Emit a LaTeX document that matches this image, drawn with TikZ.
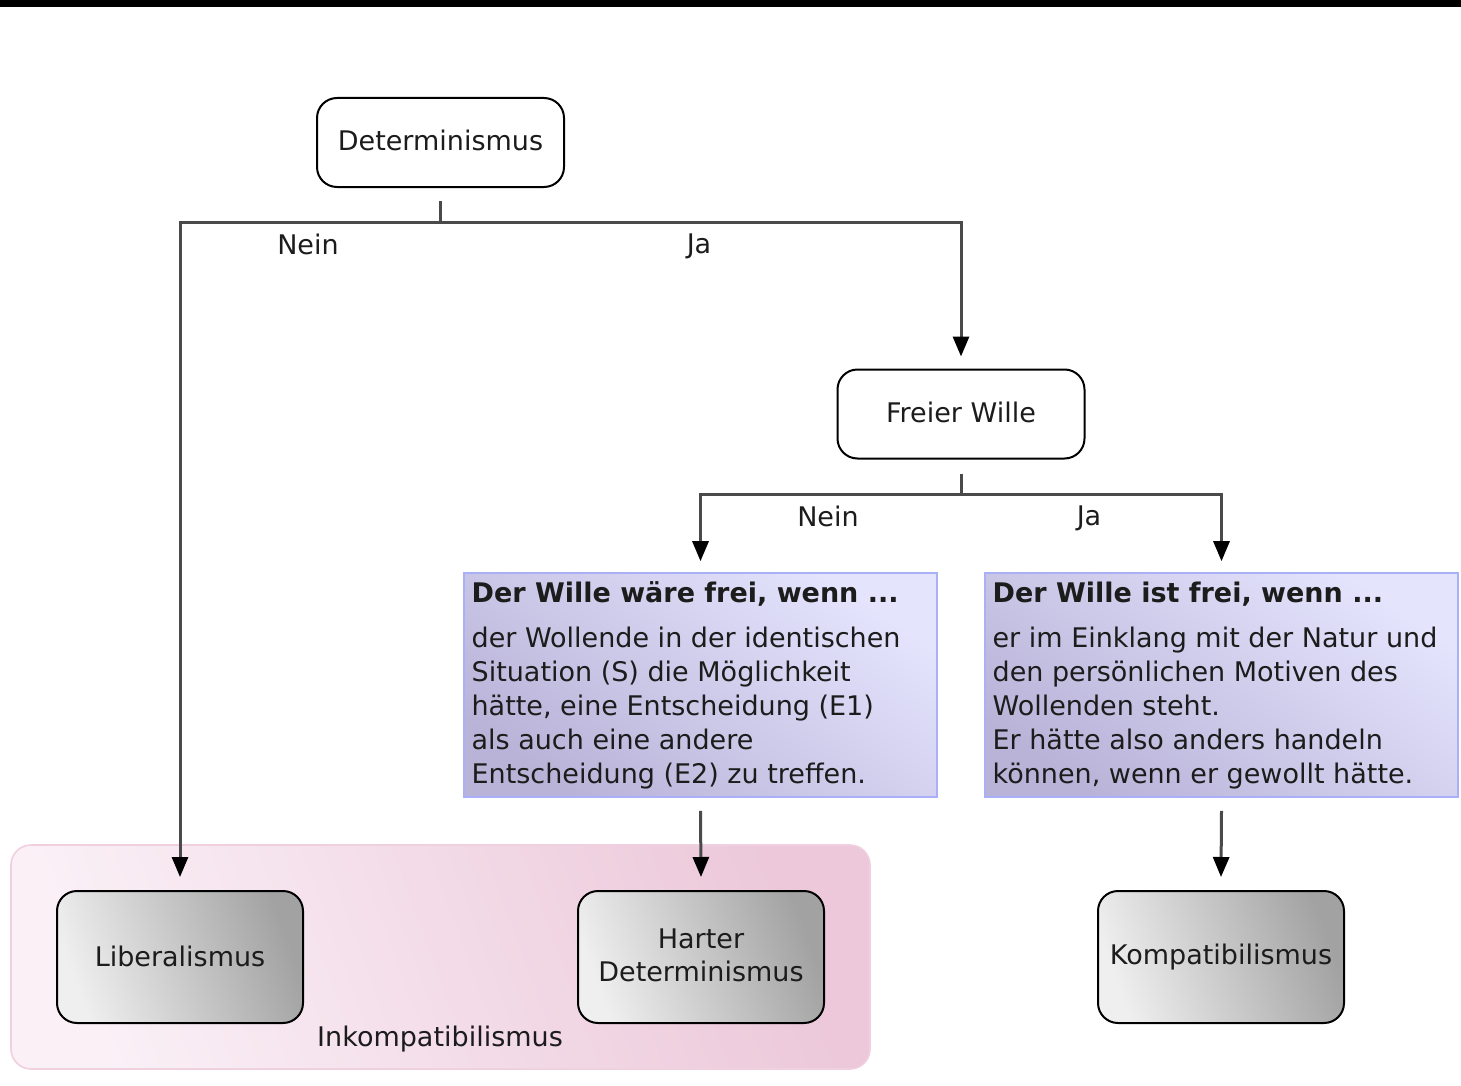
\documentclass[tikz,border=0pt]{standalone}
\usepackage{fontspec}
\setmainfont{DejaVu Sans}
\usetikzlibrary{arrows.meta,calc}

\definecolor{linegray}{HTML}{4A4A4A}
\definecolor{textgray}{HTML}{1C1C1C}
\definecolor{lavlight}{HTML}{E4E4FD}
\definecolor{lavdark}{HTML}{B9B3D8}
\definecolor{lavedge}{HTML}{A9B0F7}
\definecolor{pinklight}{HTML}{FAF0F6}
\definecolor{pinkdark}{HTML}{ECC8DA}
\definecolor{pinkedge}{HTML}{F0CFDF}
\definecolor{greylight}{HTML}{EFEFEF}
\definecolor{greydark}{HTML}{A2A2A2}

\tikzset{
  decision/.style={draw=black, line width=1pt, rounded corners=10pt, fill=white,
    minimum width=123.5pt, minimum height=44.5pt, inner sep=0pt, text depth=2pt},
  result/.style={draw=black, line width=1pt, rounded corners=10pt,
    left color=greylight, right color=greydark, shading angle=110,
    minimum width=123pt, minimum height=66pt, inner sep=0pt, align=center},
  lavbox/.style={draw=lavedge, line width=0.8pt,
    top color=lavlight, bottom color=lavdark, shading angle=-35,
    minimum width=236.5pt, minimum height=112pt, inner sep=0pt},
  boxtext/.style={anchor=north west, align=left, inner sep=0pt,
    font=\fontsize{13.5}{17}\selectfont},
  group/.style={draw=pinkedge, line width=0.8pt, rounded corners=10pt,
    left color=pinklight, right color=pinkdark, shading angle=110,
    minimum width=429.5pt, minimum height=112pt, inner sep=0pt},
  conn/.style={draw=linegray, line width=1.5pt},
  arrow/.style={conn, -{Triangle[length=10pt,width=8pt,color=black]}},
  lbl/.style={inner sep=0pt}
}

\begin{document}
\begin{tikzpicture}[x=0.5pt, y=-0.5pt, font=\fontsize{13.5}{16.5}\selectfont,
  text=textgray]
\useasboundingbox (0,0) rectangle (1461,1086);
\fill[black] (0,0) rectangle (1461,7);

% top-level question
\node[decision] (det) at (440.5,142.5) {Determinismus};
\node[decision] (fw) at (961,414) {Freier Wille};

% incompatibilist group
\node[group] (inc) at (440.5,957) {};
\node[lbl] (inclbl) at (440,1039) {Inkompatibilismus};

% outcomes
\node[result] (lib) at (180,957) {\raisebox{1pt}{Liberalismus}};
\node[result] (hd) at (701,957) {\raisebox{1.5pt}{Harter}\\\raisebox{1.5pt}{Determinismus}};
\node[result] (komp) at (1221,957) {\raisebox{1pt}{Kompatibilismus}};

% explanation boxes
\node[lavbox] (b1) at (700.5,685) {};
\node[boxtext] (b1t) at ([xshift=4pt,yshift=-4.5pt]b1.north west)
  {\textbf{Der Wille wäre frei, wenn ...}\\[5.5pt]
   der Wollende in der identischen\\
   Situation (S) die Möglichkeit\\
   hätte, eine Entscheidung (E1)\\
   als auch eine andere\\
   Entscheidung (E2) zu treffen.};
\node[lavbox] (b2) at (1221.5,685) {};
\node[boxtext] (b2t) at ([xshift=4pt,yshift=-4.5pt]b2.north west)
  {\textbf{Der Wille ist frei, wenn ...}\\[5.5pt]
   er im Einklang mit der Natur und\\
   den persönlichen Motiven des\\
   Wollenden steht.\\
   Er hätte also anders handeln\\
   können, wenn er gewollt hätte.};

% first fork
\coordinate (fork1) at ($(det.south)+(0,34)$);
\draw[conn] ([yshift=-6.5pt]det.south) -- (fork1);
\draw[arrow] (fork1) -| ([yshift=6.5pt]lib.north);
\draw[arrow] (fork1) -| ([yshift=6pt]fw.north);
\node[lbl] (n1) at (308,244) {Nein};
\node[lbl] (j1) at (699,246) {Ja};

% second fork
\coordinate (fork2) at ($(fw.south)+(0,35)$);
\draw[conn] ([yshift=-7pt]fw.south) -- (fork2);
\draw[arrow] (fork2) -| ([yshift=5.5pt]b1.north);
\draw[arrow] (fork2) -| ([yshift=5.5pt]b2.north);
\node[lbl] (n2) at (828,516) {Nein};
\node[lbl] (j2) at (1089,518) {Ja};

% boxes to outcomes
\draw[arrow] ([yshift=-6.5pt]b1.south) -- ([yshift=6.5pt]hd.north);
\draw[arrow] ([yshift=-6.5pt]b2.south) -- ([yshift=6.5pt]komp.north);
\end{tikzpicture}
\end{document}
